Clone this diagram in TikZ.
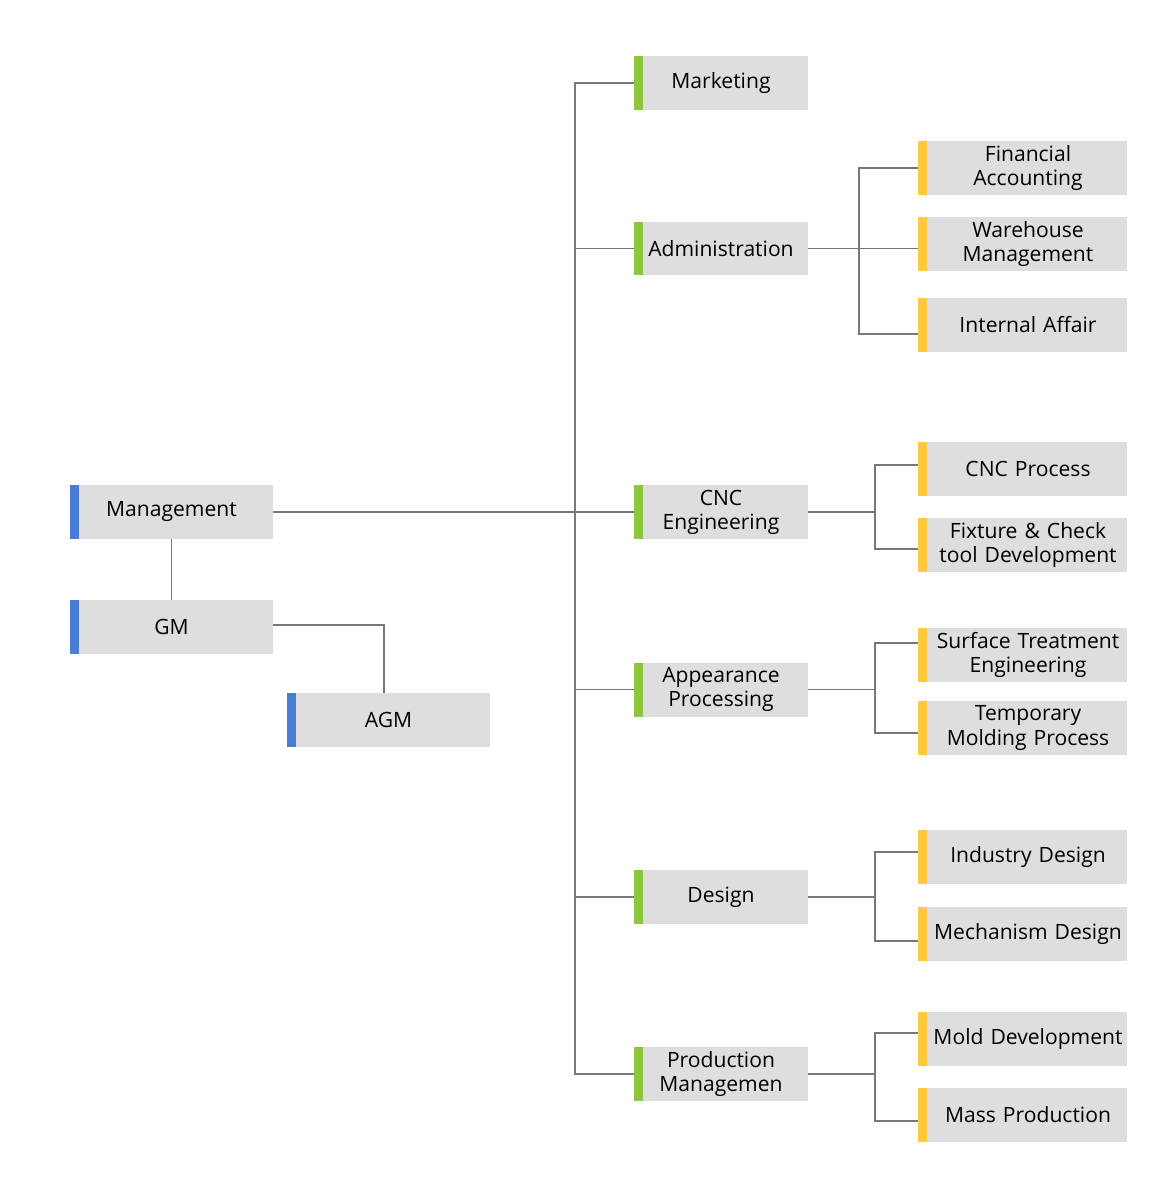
\documentclass[tikz,border=0pt]{standalone}
\usepackage{fontspec}
\setmainfont{Open Sans}
\usetikzlibrary{positioning}
\definecolor{boxgray}{RGB}{221, 222, 221}
\definecolor{mblue}{RGB}{74, 124, 212}
\definecolor{mgreen}{RGB}{141, 198, 63}
\definecolor{myellow}{RGB}{255, 200, 61}
\definecolor{linegray}{RGB}{120, 120, 120}
\tikzset{unit/.style = {fill=boxgray, inner sep=0pt, align=center,
                        font=\fontsize{12}{13.7}\selectfont,
                        minimum height=1.08cm}}
\tikzset{bar/.style = {path picture={\fill [#1] (path picture bounding box.north west)
                        rectangle ([xshift=0.18cm]path picture bounding box.south west);}}}
\tikzset{topunit/.style = {unit, bar=mblue, minimum width=4.06cm}}
\tikzset{deptunit/.style = {unit, bar=mgreen, minimum width=3.48cm}}
\tikzset{subunit/.style = {unit, bar=myellow, minimum width=4.18cm, text width=4.18cm}}
\tikzset{link/.style = {draw=linegray, line width=0.75pt}}

\begin{document}
\begin{tikzpicture}[x=0.02cm, y=-0.02cm]
    \useasboundingbox (0, 0) rectangle (1163, 1200);
    % management chain
    \node [topunit] (management) at (171.5, 512) {Management};
    \node [topunit] (gm) at (171.5, 627) {GM};
    \node [topunit] (agm) at (388.5, 720) {AGM};
    \draw [link] (management) -- (gm);
    \draw [link] ([yshift=0.04cm]gm.east) -| ([xshift=-0.09cm]agm.north);
    % departments
    \node [deptunit] (marketing) at (721, 83) {Marketing};
    \node [deptunit] (admin) at (721, 248.5) {Administration};
    \node [deptunit] (cnc) at (721, 512) {CNC\\Engineering};
    \node [deptunit] (appearance) at (721, 689.5) {Appearance\\Processing};
    \node [deptunit] (design) at (721, 897) {Design};
    \node [deptunit] (production) at (721, 1074) {Production\\Managemen};
    \coordinate (trunk) at (575, 512);
    \draw [link] (management) -- (cnc);
    \draw [link] (marketing.west) -| (trunk) |- (production.west);
    \draw [link] (admin.west) -- (admin.west -| trunk);
    \draw [link] (appearance.west) -- (appearance.west -| trunk);
    \draw [link] (design.west) -- (design.west -| trunk);
    % administration
    \node [subunit] (financial) at (1022.5, 168) {\hspace*{0.22cm}Financial\\\hspace*{0.22cm}Accounting};
    \node [subunit] (warehouse) at (1022.5, 244) {\hspace*{0.22cm}Warehouse\\\hspace*{0.22cm}Management};
    \node [subunit] (internal) at (1022.5, 325) {\hspace*{0.22cm}Internal Affair};
    \coordinate (adminbus) at (859, 248.5);
    \draw [link] (admin.east) -- (admin.east -| warehouse.west);
    \draw [link] (financial.west) -| (adminbus) |- ([yshift=-0.18cm]internal.west);
    % cnc engineering
    \node [subunit] (cncprocess) at (1022.5, 469) {\hspace*{0.22cm}CNC Process};
    \node [subunit] (fixture) at (1022.5, 545) {\hspace*{0.22cm}Fixture \& Check\\\hspace*{0.22cm}tool Development};
    \coordinate (cncbus) at (875, 512);
    \draw [link] (cnc.east) -- (cncbus);
    \draw [link] ([yshift=0.08cm]cncprocess.west) -| (cncbus) |- ([yshift=-0.08cm]fixture.west);
    % appearance processing
    \node [subunit] (surface) at (1022.5, 655) {\hspace*{0.22cm}Surface Treatment\\\hspace*{0.22cm}Engineering};
    \node [subunit] (temporary) at (1022.5, 728) {\hspace*{0.22cm}Temporary\\\hspace*{0.22cm}Molding Process};
    \coordinate (appbus) at (875, 689.5);
    \draw [link] (appearance.east) -- (appbus);
    \draw [link] ([yshift=0.24cm]surface.west) -| (appbus) |- ([yshift=-0.1cm]temporary.west);
    % design
    \node [subunit] (industry) at (1022.5, 857) {\hspace*{0.22cm}Industry Design};
    \node [subunit] (mechanism) at (1022.5, 934) {\hspace*{0.22cm}Mechanism Design};
    \coordinate (designbus) at (875, 897);
    \draw [link] (design.east) -- (designbus);
    \draw [link] ([yshift=0.1cm]industry.west) -| (designbus) |- ([yshift=-0.14cm]mechanism.west);
    % production management
    \node [subunit] (mold) at (1022.5, 1039) {\hspace*{0.22cm}Mold Development};
    \node [subunit] (mass) at (1022.5, 1115) {\hspace*{0.22cm}Mass Production};
    \coordinate (prodbus) at (875, 1074);
    \draw [link] (production.east) -- (prodbus);
    \draw [link] ([yshift=0.12cm]mold.west) -| (prodbus) |- ([yshift=-0.12cm]mass.west);
\end{tikzpicture}
\end{document}
